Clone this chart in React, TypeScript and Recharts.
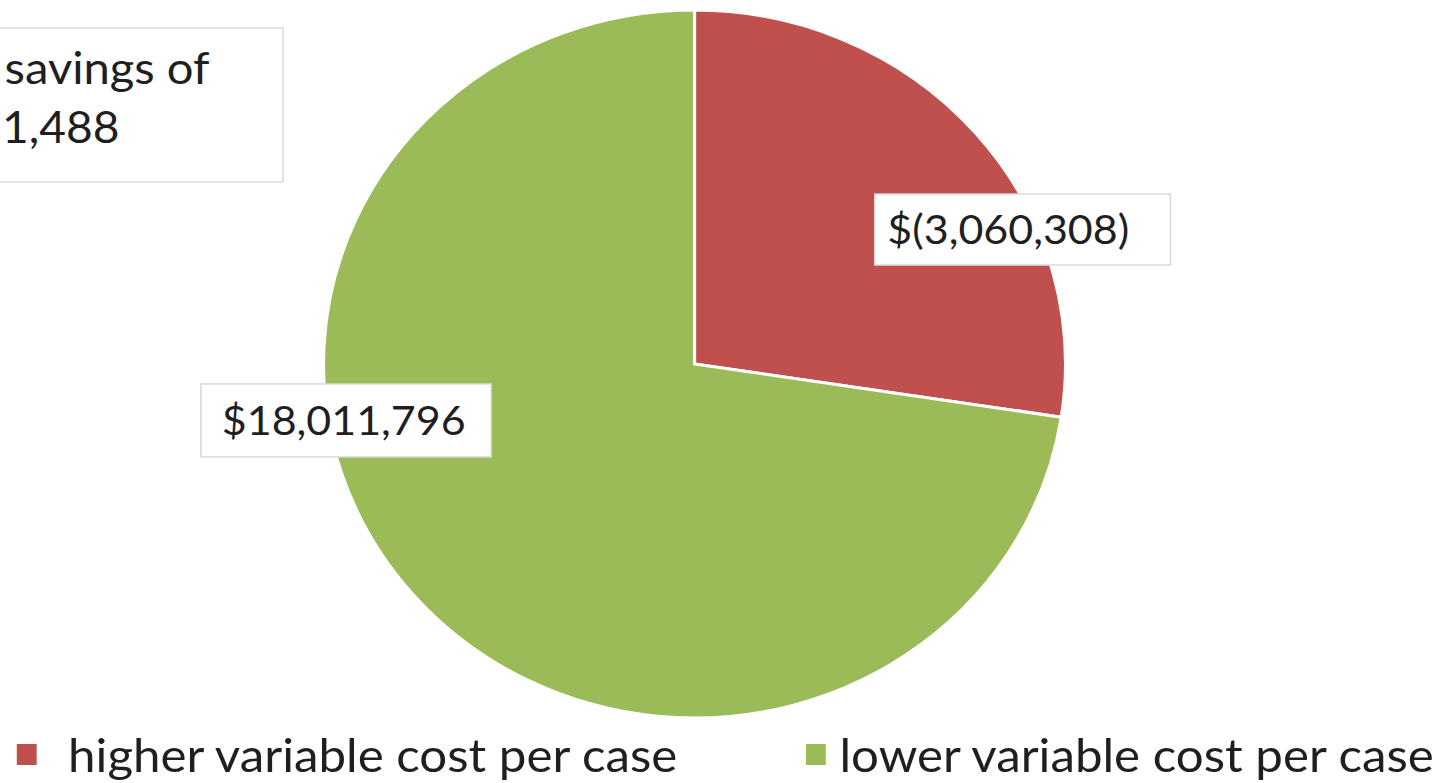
import { PieChart, Pie, Cell, Legend, Customized } from "recharts"

// slice shares (angles), labels as printed
const sliceNames = ["higher variable cost per case", "lower variable cost per case"]
const sliceShares = [27.4, 72.6]
const sliceLabels = ["$(3,060,308)", "$18,011,796"]
const sliceColors = ["#C0504D", "#9BBB59"]
const noteLines = ["savings of", "1,488"]

// the reference is stretched a little horizontally
const STRETCH = 1.048
const W = 1379
const H = 783
const FONT = "Lato, 'Open Sans', sans-serif"
const TEXT = "#1f1f1f"

// label box placement: polar offset from pie centre, box size
const labelPlace = [
  { angle: 23.25, r: 340.7, w: 282, h: 71, pad: 12 },
  { angle: 189.64, r: 337.3, w: 277, h: 73, pad: 20 },
]

const data = sliceNames.map((name, i) => ({ name, value: sliceShares[i], label: sliceLabels[i] }))

function renderLabel(props: any) {
  const { cx, cy, index } = props
  const p = labelPlace[index]
  const rad = (p.angle * Math.PI) / 180
  const x = cx + p.r * Math.cos(rad)
  const y = cy - p.r * Math.sin(rad)
  return (
    <g key={`lbl-${index}`}>
      <rect x={x - p.w / 2} y={y - p.h / 2} width={p.w} height={p.h} fill="#fff" stroke="#d9d9d9" strokeWidth={1.5} />
      <text x={x - p.w / 2 + p.pad} y={y} dy="0.35em" fontSize={41} fontFamily={FONT} fill={TEXT}>
        {sliceLabels[index]}
      </text>
    </g>
  )
}

function NoteBox() {
  return (
    <g>
      <rect x={-20} y={28} width={290} height={154} fill="#fff" stroke="#d9d9d9" strokeWidth={1.5} />
      <text x={200} y={68} dy="0.35em" textAnchor="end" fontSize={45} fontFamily={FONT} fill={TEXT}>
        {noteLines[0]}
      </text>
      <text x={114} y={128} dy="0.35em" textAnchor="end" fontSize={44} fontFamily={FONT} fill={TEXT}>
        {noteLines[1]}
      </text>
    </g>
  )
}

function LegendContent() {
  const items = [
    { left: 16, gap: 30 },
    { left: 769, gap: 13 },
  ]
  return (
    <div style={{ position: "relative", width: W, height: 48, fontFamily: FONT }}>
      {sliceNames.map((n, i) => (
        <div key={n} style={{ position: "absolute", left: items[i].left, top: 0, display: "flex", alignItems: "center", height: 48 }}>
          <span style={{ display: "inline-block", width: 19, height: 21, background: sliceColors[i], marginRight: items[i].gap }} />
          <span style={{ fontSize: 47, color: TEXT, lineHeight: "48px", whiteSpace: "nowrap" }}>{n}</span>
        </div>
      ))}
    </div>
  )
}

export default function App() {
  return (
    <div style={{ position: "absolute", left: 0, top: 0, width: 1445, height: H, overflow: "hidden", background: "#fff" }}>
      <div style={{ transform: `scaleX(${STRETCH})`, transformOrigin: "0 0", width: W, height: H }}>
        <PieChart width={W} height={H} margin={{ top: 0, right: 0, bottom: 0, left: 0 }}>
          <Pie
            data={data}
            dataKey="value"
            nameKey="name"
            cx={662.7}
            cy={364}
            outerRadius={354}
            startAngle={90}
            endAngle={-270}
            stroke="#fff"
            strokeWidth={3}
            labelLine={false}
            label={renderLabel}
            isAnimationActive={false}
          >
            {data.map((d, i) => (
              <Cell key={d.name} fill={sliceColors[i]} />
            ))}
          </Pie>
          <Customized component={NoteBox} />
          <Legend content={LegendContent} wrapperStyle={{ position: "absolute", left: 0, top: 730, width: W }} />
        </PieChart>
      </div>
    </div>
  )
}
